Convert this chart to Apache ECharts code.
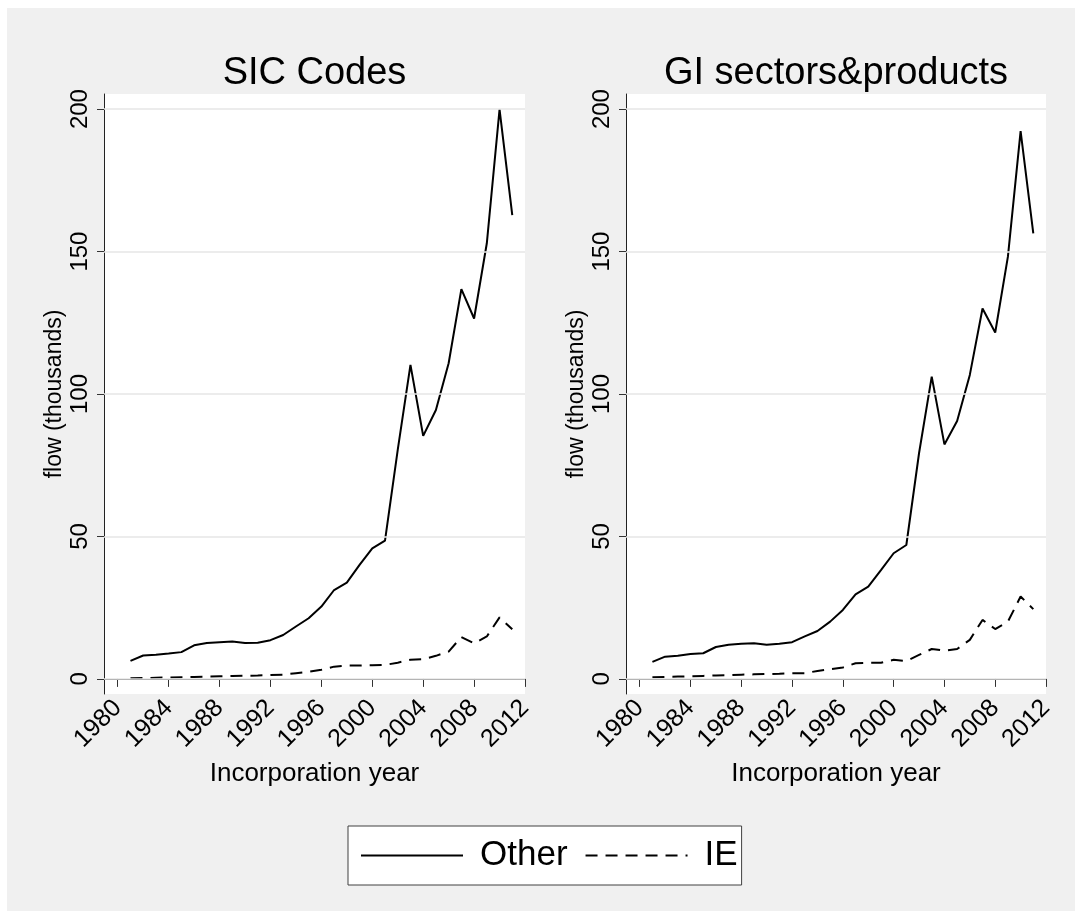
<!DOCTYPE html>
<html lang="en">

<head>
    <meta charset="UTF-8">
    <title>flow by incorporation year</title>
    <script src="https://cdn.jsdelivr.net/npm/echarts@6/dist/echarts.min.js"></script>
    <style>
        * {
            margin: 0;
            padding: 0;
        }

        body {
            background: #fff;
        }

        #main {
            position: absolute;
            left: 7px;
            top: 8px;
            width: 1068px;
            height: 903px;
            background: #f0f0f0;
        }
    </style>
</head>

<body>
    <div id="main"></div>
    <script>
        var years = [1981, 1982, 1983, 1984, 1985, 1986, 1987, 1988, 1989, 1990,
            1991, 1992, 1993, 1994, 1995, 1996, 1997, 1998, 1999, 2000,
            2001, 2002, 2003, 2004, 2005, 2006, 2007, 2008, 2009, 2010, 2011];

        // SIC Codes panel
        var sicOther = [6.3, 8.2, 8.5, 8.9, 9.4, 11.8, 12.6, 12.9, 13.1, 12.6,
            12.7, 13.6, 15.4, 18.4, 21.3, 25.4, 31.2, 33.8, 40.0, 45.8,
            48.5, 80.4, 110.2, 85.3, 94.4, 110.8, 136.8, 126.5, 152.9, 199.9, 162.8];
        var sicIE = [0.2, 0.3, 0.4, 0.5, 0.6, 0.7, 0.8, 0.9, 1.0, 1.1,
            1.2, 1.4, 1.5, 2.0, 2.5, 3.2, 4.3, 4.7, 4.7, 4.8,
            4.9, 5.7, 6.7, 6.9, 8.1, 9.6, 14.7, 12.5, 14.9, 21.6, 17.4];

        // GI sectors&products panel
        var giOther = [6.0, 7.8, 8.1, 8.7, 9.0, 11.2, 12.0, 12.3, 12.5, 12.0,
            12.3, 12.9, 14.9, 16.8, 20.1, 24.2, 29.7, 32.4, 38.2, 44.1,
            47.0, 79.2, 106.1, 82.3, 90.5, 106.7, 130.0, 121.6, 148.2, 192.3, 156.4];
        var giIE = [0.6, 0.7, 0.8, 0.9, 1.05, 1.2, 1.3, 1.5, 1.6, 1.7,
            1.8, 2.0, 2.0, 2.8, 3.4, 4.0, 5.5, 5.7, 5.7, 6.7,
            6.3, 8.4, 10.5, 9.9, 10.5, 13.7, 20.7, 17.5, 20.1, 28.9, 24.5];

        var yTicks = [0, 50, 100, 150, 200];
        var xTicks = [1980, 1984, 1988, 1992, 1996, 2000, 2004, 2008, 2012];
        var titles = ['SIC Codes', 'GI sectors&products'];

        var font = 'Liberation Sans, Arial, sans-serif';

        function pairs(vals) {
            return years.map(function (y, i) { return [y, vals[i]]; });
        }

        function xAxis(idx) {
            return {
                gridIndex: idx,
                type: 'value',
                min: 1978.92,
                max: 2012,
                name: 'Incorporation year',
                nameLocation: 'middle',
                nameGap: 67,
                nameTextStyle: { fontFamily: font, fontSize: 26, color: '#000' },
                axisLine: { lineStyle: { color: '#222', width: 1 } },
                axisTick: { customValues: xTicks, length: 8, lineStyle: { color: '#333' } },
                axisLabel: {
                    customValues: xTicks, rotate: 45, margin: 10,
                    formatter: function (v) { return String(v); },
                    fontFamily: font, fontSize: 25, color: '#000'
                },
                splitLine: { show: false }
            };
        }

        function yAxis(idx) {
            return {
                gridIndex: idx,
                type: 'value',
                min: -5.3,
                max: 205.3,
                name: 'flow (thousands)',
                nameLocation: 'middle',
                nameGap: 38,
                nameTextStyle: { fontFamily: font, fontSize: 23, color: '#000' },
                axisLine: { show: true, lineStyle: { color: '#222', width: 1 } },
                axisTick: { show: true, customValues: yTicks, length: 7, lineStyle: { color: '#333' } },
                axisLabel: {
                    customValues: yTicks, rotate: 90, margin: 12,
                    fontFamily: font, fontSize: 24, color: '#000'
                },
                splitLine: { show: false }
            };
        }

        function gridLines() {
            return {
                silent: true,
                symbol: 'none',
                label: { show: false },
                lineStyle: { color: '#e6e6e6', width: 1.5, type: 'solid' },
                data: yTicks.map(function (v) { return { yAxis: v }; })
            };
        }

        function lineSeries(name, vals, idx, dashed, withGrid) {
            var s = {
                name: name,
                type: 'line',
                xAxisIndex: idx,
                yAxisIndex: idx,
                symbol: 'none',
                color: '#000',
                lineStyle: { color: '#000', width: 2, type: dashed ? [12, 8] : 'solid' },
                data: pairs(vals),
                z: 3
            };
            if (withGrid) s.markLine = gridLines();
            return s;
        }

        var chartDom = document.getElementById('main');
        var myChart = echarts.init(chartDom);

        var option = {
            backgroundColor: '#f0f0f0',
            animation: false,
            title: [
                {
                    text: titles[0], left: 307.5, top: 47, textAlign: 'center', padding: 0,
                    textStyle: { fontFamily: font, fontSize: 38, fontWeight: 'normal', color: '#000' }
                },
                {
                    text: titles[1], left: 829, top: 47, textAlign: 'center', padding: 0,
                    textStyle: { fontFamily: font, fontSize: 38, fontWeight: 'normal', color: '#000' }
                }
            ],
            legend: {
                left: 341,
                top: 818,
                orient: 'horizontal',
                data: ['Other', 'IE'],
                itemWidth: 102,
                itemHeight: 20,
                itemGap: 17,
                padding: [12, 4, 12, 12],
                backgroundColor: '#fff',
                borderColor: '#404040',
                borderWidth: 1,
                borderRadius: 0,
                selectedMode: false,
                itemStyle: { opacity: 0 },
                lineStyle: { width: 2 },
                textStyle: { fontFamily: font, fontSize: 35, color: '#000', padding: [0, 0, 0, 12] }
            },
            grid: [
                { left: 97, top: 86, width: 421, height: 600, show: true, backgroundColor: '#fff', borderWidth: 0 },
                { left: 619, top: 86, width: 420, height: 600, show: true, backgroundColor: '#fff', borderWidth: 0 }
            ],
            xAxis: [xAxis(0), xAxis(1)],
            yAxis: [yAxis(0), yAxis(1)],
            series: [
                lineSeries('Other', sicOther, 0, false, true),
                lineSeries('IE', sicIE, 0, true, false),
                lineSeries('Other', giOther, 1, false, true),
                lineSeries('IE', giIE, 1, true, false)
            ]
        };

        myChart.setOption(option);
    </script>
</body>

</html>
